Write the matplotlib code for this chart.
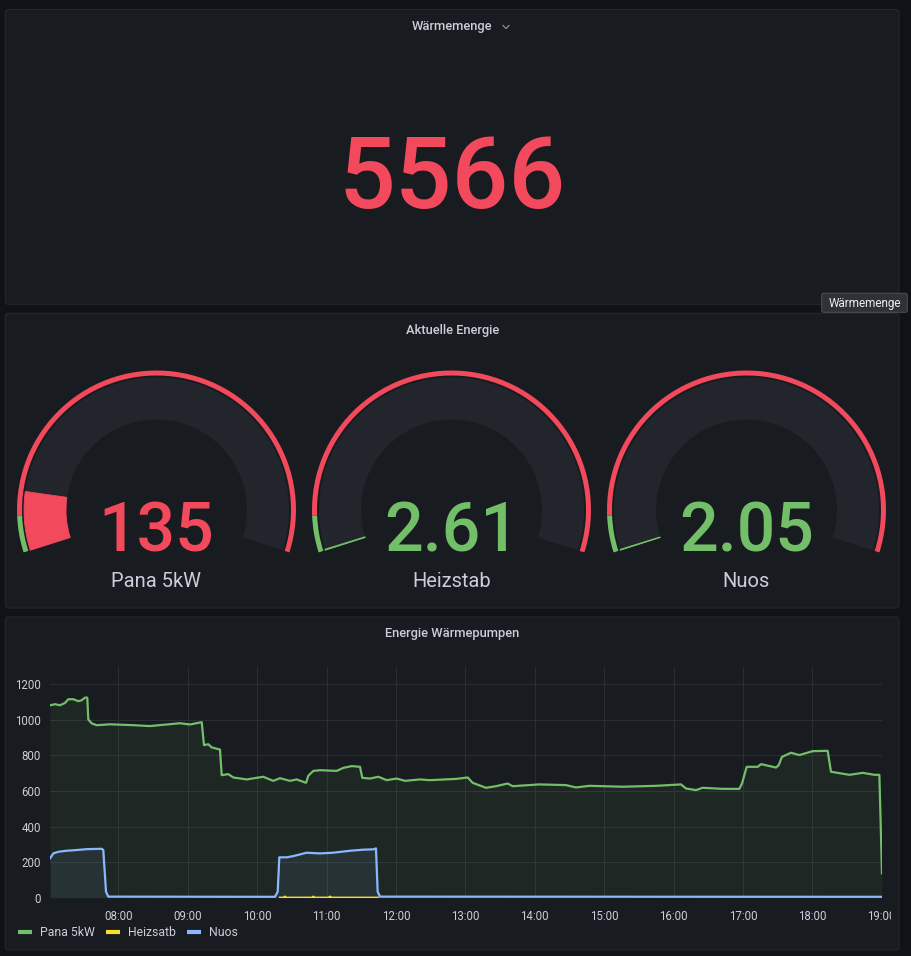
import numpy as np
import matplotlib
matplotlib.use('Agg')
import matplotlib.pyplot as plt
from matplotlib.patches import FancyBboxPatch, Wedge
from matplotlib.transforms import Bbox, TransformedBbox

plt.rcParams['font.family'] = ['Roboto', 'DejaVu Sans']

# ---- data -------------------------------------------------------------
stat_title = 'Wärmemenge'
stat_value = '5566'

gauge_title = 'Aktuelle Energie'
gauge_labels = ['Pana 5kW', 'Heizstab', 'Nuos']
gauge_values = [135, 2.61, 2.05]
gauge_texts = ['135', '2.61', '2.05']
gauge_min, gauge_max = 0, 1130
gauge_threshold = 80

ts_title = 'Energie Wärmepumpen'
series_names = ['Pana 5kW', 'Heizsatb', 'Nuos']

# time in hours of day
pana_t = [7.016, 7.088, 7.160, 7.232, 7.280, 7.352, 7.424, 7.472, 7.520, 7.553,
          7.568, 7.617, 7.689, 7.880, 8.216, 8.457, 8.697, 8.889, 9.033, 9.202,
          9.235, 9.297, 9.346, 9.465, 9.490, 9.585, 9.657, 9.850, 10.089, 10.233,
          10.330, 10.474, 10.570, 10.705, 10.738, 10.810, 10.906, 11.147, 11.242, 11.363,
          11.483, 11.516, 11.627, 11.746, 11.867, 12.011, 12.131, 12.347, 12.491, 12.866,
          13.034, 13.106, 13.298, 13.442, 13.610, 13.683, 14.067, 14.451, 14.595, 14.787,
          15.268, 15.748, 16.108, 16.180, 16.324, 16.420, 16.708, 16.948, 16.987, 17.054,
          17.213, 17.261, 17.477, 17.515, 17.563, 17.693, 17.813, 18.005, 18.221, 18.269,
          18.365, 18.534, 18.726, 18.894, 18.966, 19.004]
pana_v = [1082, 1088, 1082, 1095, 1116, 1116, 1105, 1110, 1125, 1125,
          1002, 980, 970, 975, 970, 965, 974, 981, 974, 987,
          858, 863, 845, 833, 689, 695, 676, 665, 680, 657,
          672, 657, 665, 646, 686, 713, 717, 713, 730, 740,
          736, 674, 670, 680, 661, 670, 657, 665, 661, 668,
          676, 646, 618, 627, 642, 627, 637, 633, 620, 629,
          624, 629, 637, 614, 605, 618, 612, 612, 642, 736,
          736, 751, 732, 745, 792, 815, 802, 824, 826, 708,
          702, 691, 702, 691, 691, 137]

heiz_t = [10.33, 10.38, 10.40, 10.42, 10.79, 10.81, 10.83, 11.03, 11.05, 11.07, 11.74]
heiz_v = [0, 0, 6, 0, 0, 6, 0, 0, 6, 0, 0]

nuos_t = [7.016, 7.064, 7.135, 7.256, 7.400, 7.545, 7.761, 7.784, 7.823, 7.856,
          10.258, 10.297, 10.320, 10.426, 10.522, 10.714, 10.906, 11.098, 11.339, 11.531,
          11.675, 11.713, 11.737, 11.771, 19.004]
nuos_v = [221, 249, 258, 264, 268, 273, 275, 268, 34, 6,
          5, 34, 227, 227, 234, 253, 249, 253, 264, 270,
          272, 277, 34, 6, 5]

hour_ticks = list(range(8, 20))
value_ticks = [0, 200, 400, 600, 800, 1000, 1200]

# ---- style ------------------------------------------------------------
W, H = 912, 956
BG = '#111217'
PANEL = '#181b1f'
BORDER = '#24272d'
TXT = '#ccccdc'
RED = '#f2495c'
GREEN = '#73bf69'
YELLOW = '#fade2a'
BLUE = '#8ab8ff'
BAND = '#22252b'


def Y(y):
    # image rows -> upward data coordinates
    return H - y


fig = plt.figure(figsize=(W / 100, H / 100), dpi=100, facecolor=BG)
ax0 = fig.add_axes([0, 0, 1, 1])
ax0.set_xlim(0, W)
ax0.set_ylim(0, H)
ax0.axis('off')


def panel(x0, y0, x1, y1, title):
    ax0.add_patch(FancyBboxPatch((x0, Y(y1)), x1 - x0, y1 - y0,
                                 boxstyle='round,pad=0,rounding_size=3',
                                 fc=PANEL, ec=BORDER, lw=0.8))
    ax0.text((x0 + x1) / 2, Y(y0 + 17), title, ha='center', va='center',
             fontsize=9.3, fontweight='medium', color=TXT)


# stat panel
panel(5.3, 9.5, 899, 304.3, stat_title)
ax0.plot([503, 506, 509], [Y(25.5), Y(28.5), Y(25.5)], color='#8e8e95', lw=0.9)
ax0.text(452.5, Y(208.3), stat_value, ha='center', va='baseline',
         fontsize=72, fontweight='medium', color=RED)

# gauge panel
panel(5.3, 313.3, 899, 608, gauge_title)
start_ang, end_ang = 197.7, -17.7
span = start_ang - end_ang
gcy = Y(510)
for i, (lab, val, txt) in enumerate(zip(gauge_labels, gauge_values, gauge_texts)):
    gcx = 156.5 + i * 295
    ax0.add_patch(Wedge((gcx, gcy), 132.5, end_ang, start_ang, width=42,
                        fc=BAND, ec='none'))
    thr_ang = start_ang - (gauge_threshold - gauge_min) / (gauge_max - gauge_min) * span
    ax0.add_patch(Wedge((gcx, gcy), 139.5, thr_ang, start_ang, width=5,
                        fc=GREEN, ec='none'))
    ax0.add_patch(Wedge((gcx, gcy), 139.5, end_ang, thr_ang, width=5,
                        fc=RED, ec='none'))
    col = RED if val >= gauge_threshold else GREEN
    val_ang = start_ang - (val - gauge_min) / (gauge_max - gauge_min) * span
    ax0.add_patch(Wedge((gcx, gcy), 132.5, val_ang, start_ang, width=42,
                        fc=col, ec=col, lw=0.6))
    ax0.text(gcx, Y(552), txt, ha='center', va='baseline', fontsize=49,
             fontweight='medium', color=col)
    ax0.text(gcx, Y(586.7), lab, ha='center', va='baseline', fontsize=14.5,
             color=TXT)

# time series panel
panel(5.3, 617, 899, 950, ts_title)
ax = fig.add_axes([50 / W, Y(897.7) / H, 832 / W, (897.7 - 666.5) / H])
ax.set_facecolor('none')
for s in ax.spines.values():
    s.set_visible(False)

l1, = ax.plot(pana_t, pana_v, color=GREEN, lw=1.6, zorder=3)
ax.fill_between(pana_t, pana_v, color=GREEN, alpha=0.08, lw=0, zorder=2)
l2, = ax.plot(heiz_t, heiz_v, color=YELLOW, lw=1.6, zorder=3)
ax.fill_between(heiz_t, heiz_v, color=YELLOW, alpha=0.08, lw=0, zorder=2)
l3, = ax.plot(nuos_t, nuos_v, color=BLUE, lw=1.6, zorder=4)
ax.fill_between(nuos_t, nuos_v, color=BLUE, alpha=0.08, lw=0, zorder=2)

ax.set_xlim(7.016, 19.004)
ax.set_ylim(0, 1300)
ax.set_xticks(hour_ticks)
ax.set_xticklabels([f'{h:02d}:00' for h in hour_ticks])
ax.set_yticks(value_ticks)
ax.grid(True, color='#2a2d33', lw=0.8)
ax.set_axisbelow(True)
ax.tick_params(length=0, colors=TXT, labelsize=8.3)
ax.tick_params(axis='x', pad=8.5)
ax.tick_params(axis='y', pad=6.5)

clip = TransformedBbox(Bbox([[0, 0], [891, H]]), ax0.transData)
for lbl in ax.get_xticklabels():
    lbl.set_clip_on(True)
    lbl.set_clip_box(clip)

leg = ax.legend([l1, l2, l3], series_names, loc='center left',
                bbox_to_anchor=(18 / W, Y(932.7) / H), bbox_transform=fig.transFigure,
                ncol=3, frameon=False, fontsize=8.8, handlelength=1.15,
                handletextpad=0.65, columnspacing=0.9, borderpad=0, borderaxespad=0,
                labelcolor=TXT)
for ln in leg.get_lines():
    ln.set_linewidth(3)
    ln.set_solid_capstyle('butt')

# tooltip
ax0.add_patch(FancyBboxPatch((821.7, Y(312.3)), 85.6, 19, boxstyle='round,pad=0,rounding_size=2',
                             fc='#2f3136', ec='#4a4c52', lw=0.8, zorder=10))
ax0.text(864.5, Y(303), stat_title, ha='center', va='center', fontsize=8.5,
         color='#ededf0', zorder=11)

fig.savefig('out.png', dpi=100, facecolor=BG)
